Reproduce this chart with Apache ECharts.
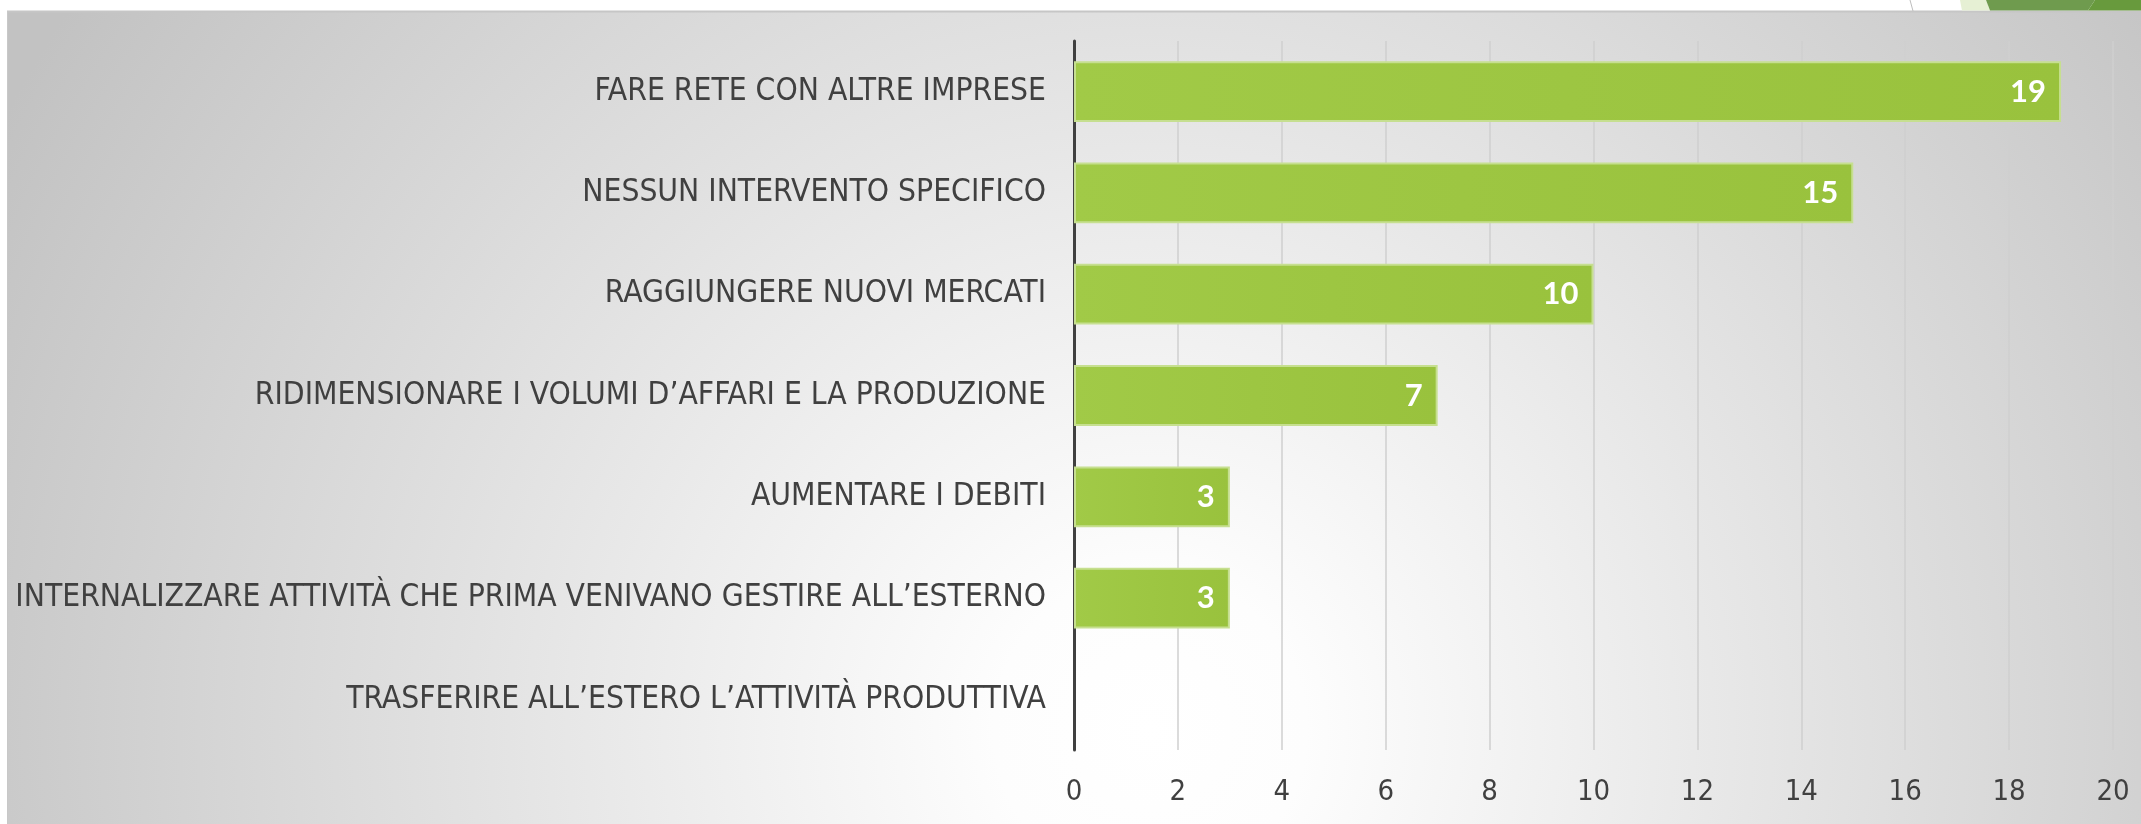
<!DOCTYPE html>
<html>
<head>
<meta charset="utf-8">
<script src="https://cdn.jsdelivr.net/npm/echarts@6/dist/echarts.min.js"></script>
<style>
html,body{margin:0;padding:0;background:#fff;}
#chart{width:2141px;height:824px;}
</style>
</head>
<body>
<div id="chart"></div>
<script>
var categories = [
  'FARE RETE CON ALTRE IMPRESE',
  'NESSUN INTERVENTO SPECIFICO',
  'RAGGIUNGERE NUOVI MERCATI',
  'RIDIMENSIONARE I VOLUMI D\u2019AFFARI E LA PRODUZIONE',
  'AUMENTARE I DEBITI',
  'INTERNALIZZARE ATTIVIT\u00C0 CHE PRIMA VENIVANO GESTIRE ALL\u2019ESTERNO',
  'TRASFERIRE ALL\u2019ESTERO L\u2019ATTIVIT\u00C0 PRODUTTIVA'
];
var values = [19, 15, 10, 7, 3, 3, 0];
var axisMin = 0, axisMax = 20, axisInterval = 2;

var FONT = '"DejaVu Sans Condensed", "DejaVu Sans", sans-serif';

var seriesData = values.map(function (v) {
  return v === 0 ? {value: v, itemStyle: {borderWidth: 0}} : v;
});

var chart = echarts.init(document.getElementById('chart'), null, {renderer: 'canvas'});
var option = {
  animation: false,
  graphic: [
    {type: 'rect', z: -20, silent: true, shape: {x: 0, y: 0, width: 2141, height: 824}, style: {fill: '#ffffff'}},
    {type: 'rect', z: -19, silent: true, shape: {x: 7, y: 11, width: 2134, height: 813},
      style: {fill: {type: 'radial', x: 1150, y: 730, r: 1300, global: true,
        colorStops: [{offset: 0, color: '#ffffff'}, {offset: 0.12, color: '#fdfdfd'}, {offset: 1, color: '#c2c2c2'}]}}},
    {type: 'line', z: -18, silent: true, shape: {x1: 7, y1: 11.5, x2: 2141, y2: 11.5}, style: {stroke: '#c6c6c6', lineWidth: 2}},
    {type: 'line', z: -18, silent: true, shape: {x1: 7.5, y1: 11, x2: 7.5, y2: 824}, style: {stroke: '#c8c8c8', lineWidth: 1}},
    {type: 'line', z: -18, silent: true, shape: {x1: 1910, y1: 0, x2: 1913, y2: 11}, style: {stroke: '#bdbdbd', lineWidth: 1}},
    {type: 'polygon', z: -18, silent: true, shape: {points: [[1960, 0], [1986, 0], [1990, 10.5], [1962, 10.5]]}, style: {fill: '#e6f0d4'}},
    {type: 'polygon', z: -18, silent: true, shape: {points: [[1986, 0], [2095, 0], [2088, 10.5], [1990, 10.5]]}, style: {fill: '#6f9b4e'}},
    {type: 'polygon', z: -18, silent: true, shape: {points: [[2095, 0], [2141, 0], [2141, 10.5], [2088, 10.5]]}, style: {fill: '#689a3d'}}
  ],
  grid: {left: 1074, right: 28, top: 41, bottom: 74, containLabel: false, outerBoundsMode: 'none'},
  xAxis: {
    type: 'value', min: axisMin, max: axisMax, interval: axisInterval,
    axisLine: {show: false}, axisTick: {show: false},
    splitLine: {show: true, lineStyle: {color: '#cfcfcf', width: 1.5}},
    axisLabel: {color: '#404040', fontFamily: FONT, fontSize: 29, margin: 28}
  },
  yAxis: {
    type: 'category', data: categories, inverse: true,
    axisLine: {show: true, lineStyle: {color: '#404040', width: 3}},
    axisTick: {show: false},
    axisLabel: {color: '#404040', fontFamily: FONT, fontSize: 31.5, margin: 28}
  },
  series: [{
    type: 'bar', data: seriesData, barCategoryGap: '40%',
    itemStyle: {
      color: {type: 'linear', x: 0, y: 0, x2: 1, y2: 0,
        colorStops: [{offset: 0, color: '#a1ca47'}, {offset: 1, color: '#99c23d'}]},
      borderColor: '#c6df90', borderWidth: 2
    },
    label: {
      show: true, position: 'insideRight', distance: 15,
      color: '#ffffff', fontFamily: 'Lato', fontWeight: 'bold', fontSize: 31,
      formatter: function (p) { return p.value === 0 ? '' : String(p.value); }
    }
  }]
};
chart.setOption(option);
</script>
</body>
</html>
